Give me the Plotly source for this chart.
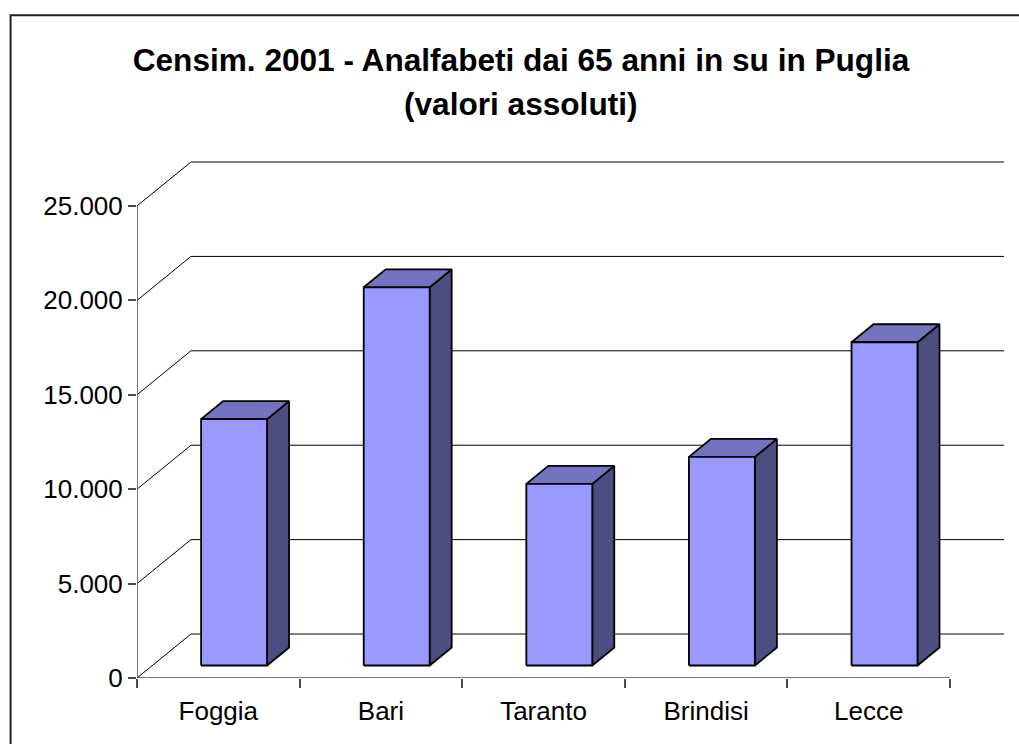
import plotly.graph_objects as go

categories = ["Foggia", "Bari", "Taranto", "Brindisi", "Lecce"]
values = [13050, 20030, 9620, 11050, 17120]
y_ticks = [0, 5000, 10000, 15000, 20000, 25000]
y_labels = ["0", "5.000", "10.000", "15.000", "20.000", "25.000"]
title_lines = ["Censim. 2001 - Analfabeti dai 65 anni in su in Puglia", "(valori assoluti)"]

# plot-area geometry (pixels) and pseudo-3D projection in axis units
W, H = 1019, 744
L, R, T, B = 136.5, 1004, 158, 678.5
PX_X = (950 - 136.5) / 5
PX_Y = (678.5 - 206) / 25000
wall_dx, wall_dy = 54 / PX_X, 44 / PX_Y
bar_dx, bar_dy = 22 / PX_X, 18 / PX_Y
bar_w = 66 / PX_X
bar_shift = 15.8 / PX_X
bar_lift = 12.5 / PX_Y
x_max = (R - L) / PX_X
y_max = (B - T) / PX_Y

FONT = "Liberation Sans, Arial, sans-serif"
LINE = "#000000"
AXIS = "#4a4a4a"
TITLE_SIZE = 31.6
TICK_SIZE = 26

grid_x, grid_y = [], []
for v in y_ticks:
    grid_x += [0, wall_dx, x_max, None]
    grid_y += [v, v + wall_dy, v + wall_dy, None]

front_x, front_y, side_x, side_y, top_x, top_y = [], [], [], [], [], []
for i, v in enumerate(values):
    x0 = i + 0.5 + bar_shift - bar_w / 2
    x1 = x0 + bar_w
    y0 = bar_lift
    y1 = bar_lift + v
    front_x += [x0, x1, x1, x0, x0, None]
    front_y += [y0, y0, y1, y1, y0, None]
    side_x += [x1, x1 + bar_dx, x1 + bar_dx, x1, x1, None]
    side_y += [y0, y0 + bar_dy, y1 + bar_dy, y1, y0, None]
    top_x += [x0, x1, x1 + bar_dx, x0 + bar_dx, x0, None]
    top_y += [y1, y1, y1 + bar_dy, y1 + bar_dy, y1, None]

fig = go.Figure()


def line_trace(x, y, color, width):
    fig.add_trace(go.Scatter(x=x, y=y, mode="lines", line=dict(color=color, width=width),
                             hoverinfo="skip", showlegend=False, cliponaxis=False))


def face_trace(x, y, fill):
    fig.add_trace(go.Scatter(x=x, y=y, mode="lines", fill="toself", fillcolor=fill,
                             line=dict(color=LINE, width=1.8), hoverinfo="skip",
                             showlegend=False, cliponaxis=False))


line_trace(grid_x, grid_y, "#000000", 1)
line_trace([0, 5], [0, 0], AXIS, 1.5)
line_trace([0, 0], [0, 25000], AXIS, 1.5)
face_trace(side_x, side_y, "#4D4D80")
face_trace(top_x, top_y, "#7373BF")
face_trace(front_x, front_y, "#9999FF")

fig.update_layout(
    width=W, height=H, autosize=False,
    margin=dict(l=L, r=W - R, t=T, b=H - B, pad=0),
    paper_bgcolor="white", plot_bgcolor="white",
    font=dict(family=FONT, color="black"),
    title=dict(text=f"<b>{title_lines[0]}</b>", x=521 / W, xanchor="center", xref="container",
               y=1 - 60 / H, yanchor="middle", yref="container",
               font=dict(family=FONT, size=TITLE_SIZE, color="black")),
    annotations=[dict(text=f"<b>{title_lines[1]}</b>", x=(520.5 - L) / (R - L), y=(B - 104) / (B - T),
                      xref="paper", yref="paper", xanchor="center", yanchor="middle",
                      showarrow=False, font=dict(family=FONT, size=TITLE_SIZE, color="black"))],
    xaxis=dict(range=[0, x_max], showgrid=False, zeroline=False, showline=False,
               tickmode="array", tickvals=[i + 0.5 for i in range(len(categories))],
               ticktext=categories, ticks="", ticklabelstandoff=15,
               tickfont=dict(family=FONT, size=TICK_SIZE, color="black"),
               minor=dict(tickmode="array", tickvals=list(range(len(categories) + 1)),
                          ticks="outside", ticklen=9, tickcolor=AXIS, tickwidth=1.5, showgrid=False)),
    yaxis=dict(range=[0, y_max], showgrid=False, zeroline=False, showline=False,
               tickmode="array", tickvals=y_ticks, ticktext=y_labels, ticks="outside",
               ticklen=8, tickcolor=AXIS, tickwidth=1.5,
               tickfont=dict(family=FONT, size=TICK_SIZE, color="black")),
    shapes=[dict(type="rect", xref="paper", yref="paper",
                 x0=(10 - L) / (R - L), x1=(1040 - L) / (R - L),
                 y0=(B - 770) / (B - T), y1=(B - 15) / (B - T),
                 line=dict(color="#202020", width=2), fillcolor="rgba(0,0,0,0)", layer="below")],
)

fig.write_html("out.html", post_script="document.body.style.margin='0';document.body.style.overflow='hidden';",
               config=dict(displayModeBar=False))
